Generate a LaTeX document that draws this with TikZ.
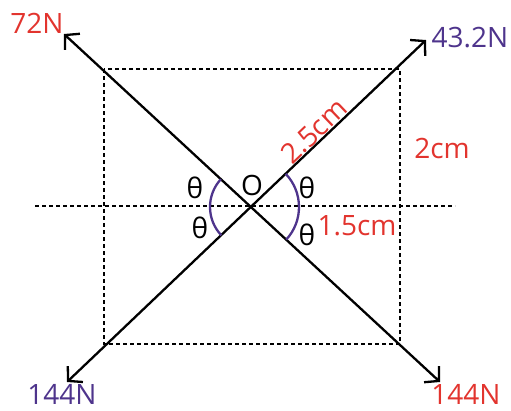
\documentclass[tikz,border=0pt]{standalone}
\usepackage{fontspec}
\setmainfont{Open Sans}
\usetikzlibrary{arrows.meta}
\definecolor{lblred}{RGB}{226,52,46}
\definecolor{lblpurple}{RGB}{78,52,140}
\tikzset{
  force/.style={line width=2.3pt, {Straight Barb[length=10pt,width=22pt]}-{Straight Barb[length=10pt,width=22pt]}},
  dotline/.style={line width=2.6pt, dash pattern=on 4pt off 3pt},
  anglearc/.style={line width=2.3pt, draw=lblpurple},
  lbl/.style={inner sep=0pt, font=\fontsize{28}{32}\selectfont},
}
\begin{document}
\begin{tikzpicture}[x=1pt,y=-1pt]
\useasboundingbox (0,0) rectangle (511,410);
% geometry
\coordinate (O) at (251,207);
\coordinate (A) at (64,34);
\coordinate (B) at (440,382);
\coordinate (C) at (67,382);
\coordinate (D) at (426,40);
\coordinate (R1) at (104,69);
\coordinate (R2) at (400,344);
\coordinate (H1) at (35,206);
\coordinate (H2) at (455,206);
% dotted lines
\draw[dotline] (R1) rectangle (R2);
\draw[dotline] (H1) -- (H2);
% forces
\draw[force] (A) -- (B);
\draw[force] (C) -- (D);
% angle arcs
\draw[anglearc] (O) ++(222.8:41) arc[start angle=222.8, end angle=136.4, radius=41];
\draw[anglearc] (O) ++(-43.7:48) arc[start angle=-43.7, end angle=42.8, radius=48];
% labels
\node[lbl, text=lblred] (l72) at (37,23) {72N};
\node[lbl, text=lblpurple] (l43) at (470,38) {43.2N};
\node[lbl, text=lblpurple] (l144a) at (62,394) {144N};
\node[lbl, text=lblred] (l144b) at (466,394) {144N};
\node[lbl, text=lblred, rotate=43.7] (l25) at (314,131) {2.5cm};
\node[lbl, text=lblred] (l2) at (442,148) {2cm};
\node[lbl, text=lblred] (l15) at (357,226) {1.5cm};
\node[lbl] (lO) at (252,185) {O};
\node[lbl] (t1) at (195,188) {θ};
\node[lbl] (t2) at (200,228) {θ};
\node[lbl] (t3) at (307,188) {θ};
\node[lbl] (t4) at (307,235) {θ};
\end{tikzpicture}
\end{document}
